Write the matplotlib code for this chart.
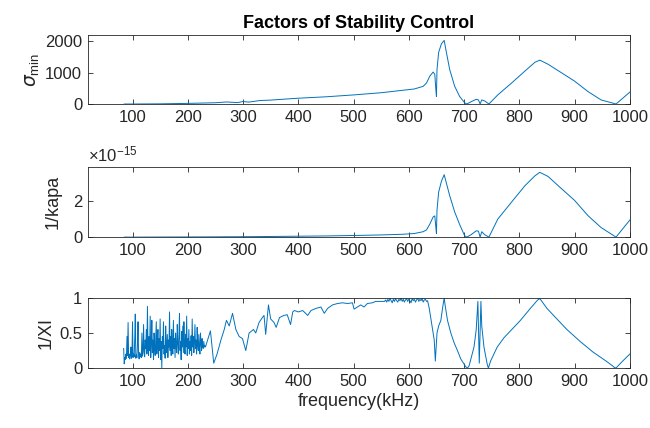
import numpy as np
import matplotlib
matplotlib.use('Agg')
import matplotlib.pyplot as plt

plt.rcParams['font.family'] = ['Liberation Sans', 'DejaVu Sans']

# ---- data ----
# top / middle panels share one frequency grid (kHz)
freq_sk = [85, 100, 150, 200, 250, 270, 290, 300, 310, 330, 350, 400, 450, 500,
           550, 590, 610, 626, 632, 638, 644, 647, 649, 650, 651, 654, 659, 664,
           668, 674, 683, 692, 701, 705, 713, 722, 726, 729, 732, 737, 745, 761,
           786, 810, 828, 837, 852, 876, 900, 924, 948, 975, 1000]

sigma_min = [0, 0, 5, 20, 40, 65, 45, 80, 60, 110, 125, 185, 230, 290,
             360, 440, 480, 565, 670, 890, 1020, 950, 450, 240, 1100, 1650, 1920, 2030,
             1650, 1100, 565, 240, 40, 0, 75, 150, 130, 0, 130, 100, 0, 290,
             670, 1050, 1330, 1400, 1270, 1000, 730, 400, 130, 0, 380]

# 1/kapa in units of 1e-15
inv_kapa = [0, 0, 0.005, 0.01, 0.015, 0.02, 0.02, 0.025, 0.025, 0.03, 0.035, 0.05, 0.065, 0.09,
            0.12, 0.16, 0.2, 0.3, 0.4, 0.72, 1.12, 1.18, 0.53, 0.2, 1.5, 2.5, 3.1, 3.47,
            3.0, 2.3, 1.4, 0.7, 0.08, 0, 0.14, 0.35, 0.33, 0, 0.3, 0.14, 0, 1.0,
            1.95, 2.85, 3.4, 3.6, 3.37, 2.7, 2.04, 1.2, 0.53, 0, 0.95]

# bottom panel: noisy low-frequency part, 1 kHz steps from 84 to 232
xi_low = [0.28, 0.06, 0.15, 0.12, 0.2, 0.14, 0.45, 0.18, 0.65, 0.15,
          0.2, 0.13, 0.18, 0.3, 0.14, 0.17, 0.66, 0.15, 0.2, 0.16,
          0.42, 0.77, 0.14, 0.19, 0.15, 0.35, 0.66, 0.18, 0.13, 0.22,
          0.16, 0.2, 0.15, 0.5, 0.17, 0.21, 0.62, 0.25, 0.16, 0.4,
          0.28, 0.55, 0.2, 0.88, 0.3, 0.18, 0.45, 0.25, 0.74, 0.15,
          0.35, 0.68, 0.22, 0.4, 0.12, 0.5, 0.3, 0.18, 0.42, 0.66,
          0.2, 0.35, 0.55, 0.15, 0.42, 0.25, 0.7, 0.12, 0.38, 0.0,
          0.45, 0.28, 0.66, 0.2, 0.32, 0.14, 0.6, 0.35, 0.22, 0.48,
          0.15, 0.4, 0.3, 0.8, 0.25, 0.45, 0.18, 0.55, 0.32, 0.2,
          0.68, 0.28, 0.42, 0.15, 0.5, 0.3, 0.22, 0.62, 0.35, 0.2,
          0.45, 0.78, 0.25, 0.38, 0.12, 0.52, 0.3, 0.6, 0.22, 0.66,
          0.35, 0.2, 0.48, 0.3, 0.74, 0.18, 0.42, 0.28, 0.55, 0.2,
          0.38, 0.25, 0.46, 0.18, 0.7, 0.3, 0.45, 0.22, 0.36, 0.62,
          0.28, 0.4, 0.2, 0.58, 0.33, 0.25, 0.48, 0.3, 0.2, 0.5,
          0.35, 0.25, 0.42, 0.3, 0.28, 0.38, 0.3, 0.32, 0.3]
freq_low = list(range(84, 84 + len(xi_low)))

freq_high = [236, 241, 247, 253, 260, 266, 270, 275, 281, 287, 293, 299, 305, 311,
             319, 323, 329, 335, 338, 341, 346, 350, 356, 360, 366, 374, 380, 386,
             390, 393, 400, 408, 417, 423, 432, 441, 447, 453, 462, 471, 480, 489,
             498, 501, 507, 513, 519, 525, 534, 540, 552,
             556, 558, 560, 562, 564, 566, 568, 570, 572, 574, 576, 578, 580, 582,
             584, 586, 588, 590, 592, 594, 596, 598, 600, 602, 604, 606, 608, 610,
             612, 614, 616, 618, 620, 622, 624, 626, 628, 630, 632, 634,
             637, 640, 643, 646, 648, 651, 654, 658, 661, 664, 666, 670, 676, 682,
             688, 694, 703, 706, 709, 718, 722, 725, 726, 727.5, 729, 730.5, 732,
             736, 742, 744, 748, 760, 772, 784, 802, 820, 832, 836, 839, 850, 868,
             886, 910, 933, 957, 969, 973, 976, 987, 1000]
xi_high = [0.4, 0.53, 0.07, 0.2, 0.4, 0.55, 0.68, 0.6, 0.78, 0.55, 0.45, 0.42, 0.25, 0.5,
           0.55, 0.5, 0.65, 0.72, 0.75, 0.48, 0.9, 0.7, 0.65, 0.58, 0.72, 0.75, 0.76, 0.62,
           0.8, 0.82, 0.8, 0.82, 0.75, 0.82, 0.85, 0.87, 0.78, 0.85, 0.9, 0.92, 0.93, 0.92,
           0.93, 0.84, 0.87, 0.9, 0.87, 0.92, 0.93, 0.95, 0.95,
           0.95, 0.97, 0.94, 0.98, 0.95, 0.99, 0.96, 0.93, 0.98, 0.95, 0.99, 0.96, 0.94, 0.98,
           0.96, 1.0, 0.95, 0.98, 0.94, 0.97, 0.99, 0.95, 0.98, 0.96, 0.93, 0.99, 0.96, 0.98,
           0.94, 0.97, 1.0, 0.95, 0.98, 0.96, 0.99, 0.94, 0.97, 0.98, 0.95, 0.96,
           0.85, 0.7, 0.55, 0.4, 0.1, 0.5, 0.6, 0.68, 0.85, 1.0, 0.88, 0.68, 0.5, 0.36,
           0.25, 0.13, 0.02, 0.0, 0.03, 0.3, 0.55, 0.95, 0.6, 0.07, 0.5, 0.95, 0.6,
           0.3, 0.05, 0.0, 0.1, 0.3, 0.43, 0.53, 0.68, 0.85, 0.96, 0.99, 0.97, 0.85, 0.7,
           0.55, 0.38, 0.23, 0.1, 0.03, 0.0, 0.01, 0.1, 0.2]

xticks = [100, 200, 300, 400, 500, 600, 700, 800, 900, 1000]

# ---- plotting ----
blue = '#0072BD'
dark = '#262626'

fig = plt.figure(figsize=(6.5, 4.28), dpi=100)
ax1 = fig.add_axes([0.135, 0.757, 0.834, 0.161])
ax2 = fig.add_axes([0.135, 0.446, 0.834, 0.164])
ax3 = fig.add_axes([0.135, 0.140, 0.834, 0.164])

ax1.plot(freq_sk, sigma_min, color=blue, lw=0.7)
ax2.plot(freq_sk, np.array(inv_kapa) * 1e-15, color=blue, lw=0.7)
ax3.plot(freq_low + freq_high, xi_low + xi_high, color=blue, lw=0.7)

ax1.set_ylim(0, 2200)
ax1.set_yticks([0, 1000, 2000])
ax2.set_ylim(0, 3.9e-15)
ax2.set_yticks([0, 2e-15])
ax2.set_yticklabels(['0', '2'])
ax3.set_ylim(0, 1)
ax3.set_yticks([0, 0.5, 1])
ax3.set_yticklabels(['0', '0.5', '1'])

for ax in (ax1, ax2, ax3):
    ax.set_xlim(19, 1000)
    ax.set_xticks(xticks)
    ax.tick_params(direction='in', top=True, right=True, length=3.5, width=0.6,
                   labelsize=12, colors=dark, pad=4)
    for s in ax.spines.values():
        s.set_color(dark)
        s.set_linewidth(0.6)

ax1.set_title('Factors of Stability Control', fontsize=13, fontweight='bold', pad=5)
ax1.set_ylabel(r'$\sigma_{\mathregular{min}}$', fontsize=13.5, color=dark, labelpad=2)
ax2.set_ylabel('1/kapa', fontsize=13, color=dark, labelpad=8)
ax3.set_ylabel('1/XI', fontsize=13, color=dark, labelpad=3)
ax3.set_xlabel('frequency(kHz)', fontsize=13, color=dark, labelpad=3)

ax2.text(0.0, 1.03, r'$\mathregular{\times10^{-15}}$', transform=ax2.transAxes,
         fontsize=12, color=dark, ha='left', va='bottom')

fig.savefig('out.png', dpi=100)
